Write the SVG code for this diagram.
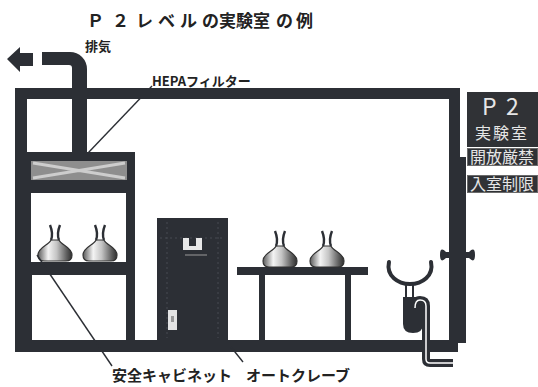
<svg xmlns="http://www.w3.org/2000/svg" width="538" height="387" viewBox="0 0 538 387">
  <style>
    .wall { fill: #2c2f35; }
    .ln { stroke: #2c2f35; fill: none; }
    .lead { stroke: #2c2f35; stroke-width: 1.4; fill: none; }
    .jp { font-family: "Noto Sans CJK JP", "Noto Sans", sans-serif; font-weight: bold; fill: #222; }
    .sign { fill: #303236; }
    .signtx { font-family: "Noto Sans CJK JP", "Noto Sans", sans-serif; fill: #e6e6e6; }
  </style>
  <defs>
    <linearGradient id="glass" x1="0" y1="0" x2="1" y2="0">
      <stop offset="0" stop-color="#5a5a5a"/>
      <stop offset="0.3" stop-color="#f4f4f4"/>
      <stop offset="0.55" stop-color="#c4c4c4"/>
      <stop offset="0.85" stop-color="#5c5c5c"/>
      <stop offset="1" stop-color="#2f2f2f"/>
    </linearGradient>
    <!-- round-bottom flask, origin at the centre of its base -->
    <g id="flask">
      <path d="M -4 -21 C -6 -16, -17 -14, -17 -6 Q -17 0, -11 0 L 11 0 Q 17 0, 17 -6 C 17 -14, 6 -16, 4 -21 Z" fill="url(#glass)" stroke="#333" stroke-width="1.2"/>
      <path d="M -4 -21 C -2 -26, -3 -31, -5 -36" class="ln" stroke-width="2.4"/>
      <path d="M 4 -21 C 2 -26, 3 -31, 5 -36" class="ln" stroke-width="2.4"/>
    </g>
  </defs>

  <!-- title -->
  <text class="jp" font-size="17" y="27" x="87 112 136 158 180 202 219 236 253 276 296">Ｐ２レベルの実験室の例</text>

  <!-- room shell -->
  <g id="room">
    <rect class="wall" x="15" y="88" width="445" height="11"/>
    <rect class="wall" x="15" y="88" width="12" height="264"/>
    <rect class="wall" x="449" y="88" width="11" height="72"/>
    <rect class="wall" x="15" y="340" width="443" height="12"/>
  </g>

  <!-- door with handles -->
  <g id="door">
    <rect class="wall" x="449" y="157" width="17" height="186"/>
    <path class="wall" d="M 449 252 L 446 252 Q 440 246 440 255 Q 440 264 446 258 L 449 258 Z"/>
    <path class="wall" d="M 466 252 L 469 252 Q 475 246 475 255 Q 475 264 469 258 L 466 258 Z"/>
  </g>

  <!-- exhaust duct -->
  <g id="exhaust">
    <path class="wall" d="M 42 52 L 70 52 A 17 17 0 0 1 87 69 L 87 156 L 72 156 L 72 68 A 3 3 0 0 0 69 65 L 42 65 Z"/>
    <polygon class="wall" points="7,59 20,47 20,53 33,53 33,66 20,66 20,72"/>
    <text class="jp" font-size="13" x="85" y="51">排気</text>
  </g>

  <!-- safety cabinet -->
  <g id="cabinet">
    <rect class="wall" x="15" y="152" width="120" height="200"/>
    <rect x="31" y="161" width="96" height="19" fill="#8e8e8e"/>
    <path d="M 33 163 L 125 178 M 33 178 L 125 163" stroke="#cdcdcd" stroke-width="3"/>
    <rect x="31" y="193" width="95" height="69" fill="#fff"/>
    <rect x="32" y="275" width="94" height="65" fill="#fff"/>
    <use href="#flask" x="55" y="261"/>
    <use href="#flask" x="100" y="261"/>
  </g>

  <!-- autoclave -->
  <g id="autoclave">
    <rect class="wall" x="157" y="218" width="71" height="124"/>
    <path d="M 160 238 H 225 M 167 222 V 338 M 218 222 V 338" stroke="#474a52" stroke-width="1" stroke-dasharray="2 3"/>
    <path d="M 183 238 H 202 V 250 H 183 Z M 189 238 V 246 H 196 V 238 Z" fill="#e8e8e8" fill-rule="evenodd"/>
    <path d="M 185 255 H 207" stroke="#9a9a9a" stroke-width="1"/>
    <rect x="168" y="310" width="9" height="20" fill="#e4e4e4"/>
    <rect x="171" y="316" width="3" height="6" fill="#999"/>
  </g>

  <!-- bench with flasks -->
  <g id="bench">
    <rect class="wall" x="237" y="267" width="131" height="8"/>
    <rect class="wall" x="259" y="275" width="6" height="66"/>
    <rect class="wall" x="345" y="275" width="6" height="66"/>
    <use href="#flask" x="280" y="267"/>
    <use href="#flask" x="327" y="267"/>
  </g>

  <!-- hand-wash sink -->
  <g id="sink">
    <path d="M 389 262 C 386 276, 398 284, 410 284 C 422 284, 434 276, 431 262" class="ln" stroke-width="4" stroke-linecap="round"/>
    <path d="M 406 284 V 298 M 413 284 V 298" class="ln" stroke-width="2"/>
    <path class="wall" d="M 403 297 H 423 V 324 Q 423 333 413 333 Q 403 333 403 324 Z"/>
    <path d="M 415 308 Q 415 300 420 300 Q 426 300 426 306 L 426 359 Q 426 363 430 363 L 453 363" class="ln" stroke-width="8"/>
    <path d="M 415 308 Q 415 300 420 300 Q 426 300 426 306 L 426 359 Q 426 363 430 363 L 453 363" stroke="#fff" stroke-width="1.5" fill="none"/>
  </g>

  <!-- door signs -->
  <g id="signs">
    <rect class="sign" x="467" y="92" width="71" height="55"/>
    <text class="signtx" font-family="Liberation Sans, sans-serif" font-size="23" x="482 506" y="115">P2</text>
    <text class="signtx" font-size="16" x="502" y="139" text-anchor="middle" letter-spacing="2">実験室</text>
    <rect class="sign" x="467.5" y="148.5" width="70" height="17" stroke="#6a6a6a"/>
    <text class="signtx" font-size="16" x="470" y="163">開放厳禁</text>
    <rect class="sign" x="467.5" y="175.5" width="70" height="17" stroke="#6a6a6a"/>
    <text class="signtx" font-size="16" x="470" y="190">入室制限</text>
  </g>

  <!-- leader lines and labels -->
  <g id="labels">
    <path class="lead" d="M 152 86 L 88 153"/>
    <path class="lead" d="M 37 255 L 112 366"/>
    <path class="lead" d="M 231 347 L 243 362"/>
    <text class="jp" font-size="13" x="152" y="86">HEPAフィルター</text>
    <text class="jp" font-size="15" x="112" y="381">安全キャビネット</text>
    <text class="jp" font-size="15" x="246" y="381">オートクレーブ</text>
  </g>
</svg>
